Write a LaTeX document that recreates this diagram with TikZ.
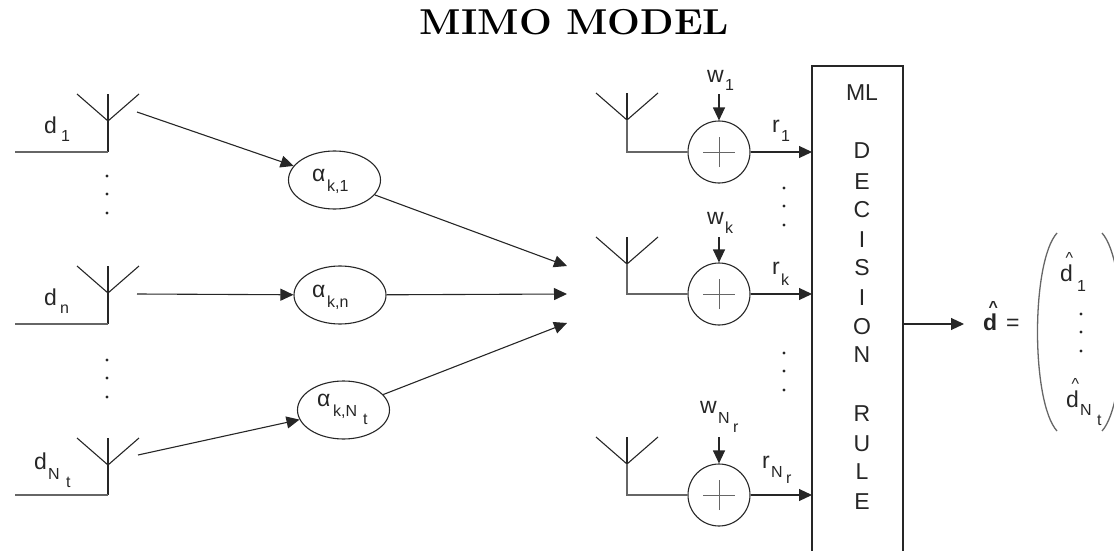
\documentclass[tikz,border=0pt]{standalone}
\usepackage{fontspec}
\setsansfont{Liberation Sans}
\usetikzlibrary{arrows.meta,shapes.geometric}
\definecolor{ink}{HTML}{262626}
\definecolor{soft}{HTML}{666666}
\newcommand{\lbl}[1]{\fontsize{23}{26}\selectfont #1}
\newcommand{\lsub}[1]{{\fontsize{16}{18}\selectfont #1}}
\newcommand{\hatted}[1]{\makebox[0pt][l]{\hspace{5.3pt}\raisebox{17.5pt}{\fontsize{16}{18}\selectfont\textasciicircum}}#1}
\tikzset{
  wire/.style={draw=ink,line width=1.1pt},
  softwire/.style={draw=soft,line width=1.3pt},
  flow/.style={draw=ink,line width=1.1pt,-{Triangle[length=13pt,width=12pt]}},
  channel/.style={draw=ink,line width=1.1pt,ellipse,minimum width=92pt,minimum height=58pt,inner sep=0pt},
  summer/.style={draw=ink,line width=1.1pt,circle,minimum size=62pt,inner sep=0pt},
  txt/.style={inner sep=0pt,anchor=base west,text=ink},
  letter/.style={inner sep=0pt,anchor=base,text=ink,font=\sffamily\fontsize{23}{26}\selectfont},
  dotmark/.style={circle,fill=ink,inner sep=0pt,minimum size=3.4pt}
}
\newcommand{\antenna}[2]{%
  \draw[wire] (#1-31,#2) -- (#1,#2+27) -- (#1+31,#2);
  \draw[wire] (#1,#2) -- (#1,#2+27);
}
\newcommand{\vdotsat}[2]{%
  \node[dotmark] at (#1,#2) {};
  \node[dotmark] at (#1,#2+18) {};
  \node[dotmark] at (#1,#2+37) {};
}
\begin{document}
\begin{tikzpicture}[x=1pt,y=-1pt,font=\sffamily]
\useasboundingbox (0,0) rectangle (1114,551);
\clip (0,0) rectangle (1114,551);
\node[inner sep=0pt,text=black,anchor=base] (title) at (574.5,35) {\scalebox{1.08}[1]{\rmfamily\fontsize{36}{38}\selectfont\bfseries MIMO MODEL}};

% transmit antennas
\antenna{108}{94}
\draw[wire] (108,121) -- (108,152);
\draw[softwire] (15,152) -- (108,152);
\antenna{108}{266}
\draw[wire] (108,293) -- (108,324);
\draw[softwire] (15,324) -- (108,324);
\antenna{108}{438}
\draw[wire] (108,465) -- (108,495);
\draw[softwire] (15,495) -- (108,495);

\node[txt] (d1) at (44,133) {\lbl{d}};
\node[txt] (d1s) at (61,141) {\lsub{1}};
\node[txt] (dn) at (44,305) {\lbl{d}};
\node[txt] (dns) at (60,313) {\lsub{n}};
\node[txt] (dt) at (34,469) {\lbl{d}};
\node[txt] (dts) at (48,479) {\lsub{N}};
\node[txt] (dtt) at (66,487) {\lsub{t}};

\vdotsat{107}{176}
\vdotsat{107}{360}

% channel ellipses
\node[channel] (a1) at (334.5,180) {};
\node[channel] (an) at (340,295) {};
\node[channel] (at) at (343.5,410) {};
\node[txt] (a1t) at (312,181) {\lbl{α}};
\node[txt] (a1s) at (327,191) {\lsub{k,1}};
\node[txt] (ant) at (312,297) {\lbl{α}};
\node[txt] (ans) at (327,307) {\lsub{k,n}};
\node[txt] (att) at (317,406) {\lbl{α}};
\node[txt] (ats) at (333,416) {\lsub{k,N}};
\node[txt] (atu) at (363,424) {\lsub{t}};

\coordinate (s1) at (137,112);
\coordinate (sn) at (137,294);
\coordinate (st) at (138,455);
\coordinate (h1) at (567,266);
\coordinate (hn) at (567,294);
\coordinate (ht) at (567,323);
\draw[flow] (s1) -- (a1);
\draw[flow] (sn) -- (an);
\draw[flow] (st) -- (at);
\draw[flow] (a1) -- (h1);
\draw[flow] (an) -- (hn);
\draw[flow] (at) -- (ht);

% receive branches
\antenna{627}{93}
\antenna{627}{237}
\antenna{627}{437}
\node[summer] (p1) at (719,152) {};
\node[summer] (pk) at (719,294) {};
\node[summer] (pr) at (719,495) {};
\draw[softwire] (627,120) |- (p1);
\draw[softwire] (627,264) |- (pk);
\draw[softwire] (627,464) |- (pr);
\foreach \c in {p1,pk,pr}{
  \draw[draw=soft,line width=1pt] ([xshift=-16pt]\c.center) -- ([xshift=16pt]\c.center);
  \draw[draw=soft,line width=1pt] ([yshift=-15pt]\c.center) -- ([yshift=15pt]\c.center);
}

% decision box
\node[draw=ink,line width=1.1pt,minimum width=91pt,minimum height=520pt,inner sep=0pt] (box) at (857.5,326) {};
\coordinate (q1) at (812,152);
\coordinate (qk) at (812,294);
\coordinate (qr) at (812,495);
\draw[flow] (p1) -- (q1);
\draw[flow] (pk) -- (qk);
\draw[flow] (pr) -- (qr);
\coordinate (w1) at (719,94);
\coordinate (wk) at (719,237);
\coordinate (wr) at (719,437);
\draw[flow] (w1) -- (p1);
\draw[flow] (wk) -- (pk);
\draw[flow] (wr) -- (pr);
\coordinate (oa) at (964,324);
\draw[flow] (box.east |- oa) -- (oa);

\node[txt] (w1t) at (707,82) {\lbl{w}};
\node[txt] (w1s) at (725,90) {\lsub{1}};
\node[txt] (wkt) at (707,224) {\lbl{w}};
\node[txt] (wks) at (725,233) {\lsub{k}};
\node[txt] (wrt) at (700,413) {\lbl{w}};
\node[txt] (wrs) at (718,423) {\lsub{N}};
\node[txt] (wru) at (733,432) {\lsub{r}};

\node[txt] (r1t) at (772,132) {\lbl{r}};
\node[txt] (r1s) at (781,141) {\lsub{1}};
\node[txt] (rkt) at (772,274) {\lbl{r}};
\node[txt] (rks) at (781,285) {\lsub{k}};
\node[txt] (rrt) at (762,468) {\lbl{r}};
\node[txt] (rrs) at (771,477) {\lsub{N}};
\node[txt] (rru) at (786,483) {\lsub{r}};

\vdotsat{784}{188}
\vdotsat{784}{353}

\node[letter] (ml) at (862,100) {ML};
\node[letter] at (862,158) {D};
\node[letter] at (862,189) {E};
\node[letter] at (862,217) {C};
\node[letter] at (862,247) {I};
\node[letter] at (862,275) {S};
\node[letter] at (862,305) {I};
\node[letter] at (862,334) {O};
\node[letter] at (862,362) {N};
\node[letter] at (862,421) {R};
\node[letter] at (862,451) {U};
\node[letter] at (862,479) {L};
\node[letter] at (862,509) {E};

% output vector
\node[txt] (dhat) at (983,330) {\lbl{\bfseries\hatted{d}}};
\node[txt] (eq) at (1006,330) {\lbl{=}};
\draw[softwire] (1057,233) .. controls (1031,262) and (1031,402) .. (1057,431);
\draw[softwire] (1102,233) .. controls (1128,262) and (1128,402) .. (1102,431);
\node[txt] (v1) at (1060,281) {\lbl{\hatted{d}}};
\node[txt] (v1s) at (1077,291) {\lsub{1}};
\node[txt] (v2) at (1066,407) {\lbl{\hatted{d}}};
\node[txt] (v2s) at (1080,415) {\lsub{N}};
\node[txt] (v2t) at (1097,425) {\lsub{t}};
\vdotsat{1081}{314}
\end{tikzpicture}
\end{document}
